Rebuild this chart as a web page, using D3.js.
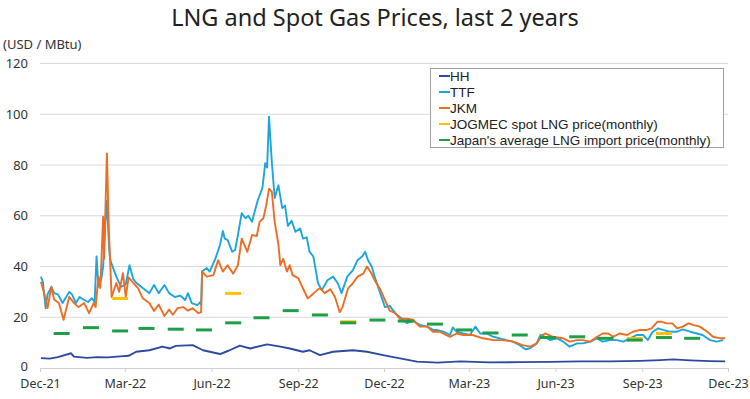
<!DOCTYPE html>
<html><head><meta charset="utf-8">
<script src="https://cdn.jsdelivr.net/npm/d3@7"></script>
<style>body{margin:0;background:#fff;font-family:"Noto Sans",sans-serif;}svg{display:block}</style>
</head><body><svg id="c" width="750" height="399"></svg>
<script>
const title = "LNG and Spot Gas Prices, last 2 years";
const unitLabel = "(USD / MBtu)";
const yTicks = [0,20,40,60,80,100,120];
const xTickDates = ["2021-12-01","2022-03-01","2022-06-01","2022-09-01","2022-12-01","2023-03-01","2023-06-01","2023-09-01","2023-12-01"];
const seriesNames = ["HH","TTF","JKM","JOGMEC spot LNG price(monthly)","Japan's average LNG import price(monthly)"];
const seriesColors = ["#2E4A9E","#1EA5DC","#EB6E24","#FFC000","#1E9E46"];

const HH = [["2021-12-02",3.9],["2021-12-11",3.7],["2021-12-20",4.3],["2022-01-03",5.8],["2022-01-06",4.5],["2022-01-20",4.0],["2022-01-30",4.3],["2022-02-11",4.2],["2022-02-24",4.6],["2022-03-05",4.8],["2022-03-13",6.4],["2022-03-27",7.0],["2022-04-10",8.4],["2022-04-18",7.7],["2022-04-24",8.7],["2022-05-12",9.0],["2022-05-23",7.0],["2022-06-10",5.5],["2022-06-19",6.8],["2022-07-01",8.8],["2022-07-12",7.7],["2022-07-30",9.3],["2022-08-13",8.4],["2022-08-23",7.7],["2022-09-06",6.4],["2022-09-13",7.0],["2022-09-24",5.1],["2022-10-08",6.4],["2022-10-29",7.0],["2022-11-13",6.4],["2022-11-30",5.1],["2022-12-18",3.8],["2023-01-05",2.5],["2023-01-27",2.1],["2023-02-20",2.6],["2023-03-23",2.2],["2023-04-24",2.3],["2023-05-26",2.4],["2023-06-27",2.6],["2023-07-29",2.6],["2023-08-30",2.8],["2023-09-20",3.1],["2023-10-04",3.4],["2023-10-22",3.0],["2023-11-12",2.7],["2023-11-28",2.6]];

const TTF = [["2021-12-02",36],["2021-12-04",34],["2021-12-07",23.6],["2021-12-09",29],["2021-12-13",32],["2021-12-16",29.5],["2021-12-20",29],["2021-12-25",25.6],["2022-01-01",30],["2022-01-04",29],["2022-01-08",25.6],["2022-01-12",28],["2022-01-16",27],["2022-01-21",26],["2022-01-25",27.5],["2022-01-28",26],["2022-01-30",44],["2022-02-01",32],["2022-02-04",35],["2022-02-06",40],["2022-02-08",55],["2022-02-10",66],["2022-02-12",50],["2022-02-13",44],["2022-02-14",42],["2022-02-20",36],["2022-02-25",32],["2022-03-02",33],["2022-03-06",40.5],["2022-03-10",35],["2022-03-13",33.6],["2022-03-20",31.5],["2022-03-27",29.5],["2022-04-01",32.7],["2022-04-06",29.5],["2022-04-12",32.7],["2022-04-17",29.5],["2022-04-23",28],["2022-04-29",28.5],["2022-05-04",26.8],["2022-05-07",29.5],["2022-05-11",25.6],["2022-05-17",24.8],["2022-05-20",26],["2022-05-21",25],["2022-05-22",38],["2022-05-27",39.4],["2022-05-30",38],["2022-06-05",43],["2022-06-10",48.5],["2022-06-13",54],["2022-06-15",51],["2022-06-18",50.5],["2022-06-23",45.8],["2022-06-26",46.5],["2022-06-29",52.4],["2022-07-03",61],["2022-07-07",59],["2022-07-10",60],["2022-07-14",57.6],["2022-07-17",62],["2022-07-20",66],["2022-07-25",71],["2022-07-28",80.7],["2022-07-30",79],["2022-08-01",99],["2022-08-04",81],["2022-08-07",67],["2022-08-11",72],["2022-08-15",63],["2022-08-18",64],["2022-08-21",56],["2022-08-25",58],["2022-08-29",53.7],["2022-09-03",55],["2022-09-06",51],["2022-09-10",51.5],["2022-09-13",45.8],["2022-09-17",44],["2022-09-22",33.4],["2022-09-26",30.7],["2022-10-02",34.6],["2022-10-08",36],["2022-10-13",33.4],["2022-10-17",29.5],["2022-10-23",36],["2022-10-29",38.6],["2022-11-03",42.5],["2022-11-08",44],["2022-11-11",45.8],["2022-11-14",42.5],["2022-11-18",40],["2022-11-21",36],["2022-11-27",29.5],["2022-12-02",24],["2022-12-07",24.5],["2022-12-13",21.6],["2022-12-18",20],["2022-12-25",17.7],["2023-01-01",18.5],["2023-01-08",17],["2023-01-16",16.3],["2023-01-22",15],["2023-01-26",15],["2023-02-02",14.3],["2023-02-09",13],["2023-02-12",16],["2023-02-16",14.3],["2023-02-23",13.6],["2023-03-02",13],["2023-03-08",16.3],["2023-03-13",13.6],["2023-03-20",13.6],["2023-03-27",12.3],["2023-04-03",11.7],["2023-04-10",11],["2023-04-17",10.4],["2023-04-24",9],["2023-04-30",7.4],["2023-05-05",7.8],["2023-05-12",9.7],["2023-05-16",13],["2023-05-21",12.3],["2023-05-26",11],["2023-06-03",11.7],["2023-06-09",10.4],["2023-06-16",8.4],["2023-06-24",9.7],["2023-06-30",9.7],["2023-07-08",10.4],["2023-07-15",11.7],["2023-07-21",10.4],["2023-07-29",11],["2023-08-05",11],["2023-08-12",10.4],["2023-08-19",11.7],["2023-08-26",13],["2023-09-02",13],["2023-09-07",11],["2023-09-12",14.3],["2023-09-18",15.6],["2023-09-23",15],["2023-09-30",14.3],["2023-10-08",14.3],["2023-10-14",15.2],["2023-10-22",14.3],["2023-10-29",13.6],["2023-11-04",13],["2023-11-12",11],["2023-11-19",10.4],["2023-11-26",11]];

const JKM = [["2021-12-02",34],["2021-12-05",30],["2021-12-09",23.6],["2021-12-13",32],["2021-12-16",27],["2021-12-21",25.6],["2021-12-26",19],["2022-01-01",28],["2022-01-06",25.6],["2022-01-11",24],["2022-01-17",25.6],["2022-01-22",21.6],["2022-01-27",25.6],["2022-01-29",24],["2022-02-01",36],["2022-02-03",31.5],["2022-02-06",59.6],["2022-02-07",43],["2022-02-10",84.6],["2022-02-12",55],["2022-02-15",28],["2022-02-20",33.5],["2022-02-23",30],["2022-02-27",37.4],["2022-03-02",28],["2022-03-05",35.7],["2022-03-10",33.5],["2022-03-15",31.5],["2022-03-20",27.5],["2022-03-27",25.6],["2022-04-01",22.5],["2022-04-06",25],["2022-04-12",20.5],["2022-04-17",23],["2022-04-21",21],["2022-04-26",23.6],["2022-05-02",24],["2022-05-07",22.6],["2022-05-12",23.6],["2022-05-18",21.6],["2022-05-21",22],["2022-05-22",38],["2022-05-27",36],["2022-06-03",36.6],["2022-06-08",42.5],["2022-06-13",38],["2022-06-18",40.5],["2022-06-24",37.2],["2022-06-29",40.5],["2022-07-03",51],["2022-07-09",45.8],["2022-07-14",52.4],["2022-07-19",52],["2022-07-22",57.6],["2022-07-26",59],["2022-07-29",64],["2022-08-01",70.7],["2022-08-04",69.4],["2022-08-07",57.6],["2022-08-11",48.5],["2022-08-13",40.5],["2022-08-16",43],["2022-08-20",38],["2022-08-23",40.5],["2022-08-26",36.6],["2022-09-01",35.4],["2022-09-06",31.4],["2022-09-11",27.5],["2022-09-13",28],["2022-09-19",30],["2022-09-24",31.5],["2022-09-29",29.5],["2022-10-05",31],["2022-10-10",28],["2022-10-15",22],["2022-10-18",24],["2022-10-24",31.5],["2022-10-29",33.4],["2022-11-03",36],["2022-11-09",37.2],["2022-11-13",40],["2022-11-18",37],["2022-11-21",34.6],["2022-11-27",31],["2022-12-02",26.8],["2022-12-07",22.6],["2022-12-13",21.6],["2022-12-18",19.4],["2022-12-25",19.4],["2023-01-01",19],["2023-01-08",16.3],["2023-01-16",16.3],["2023-01-22",14.3],["2023-01-29",14.3],["2023-02-09",12.3],["2023-02-16",13.6],["2023-02-23",13],["2023-03-05",13],["2023-03-16",11.7],["2023-03-27",11],["2023-04-06",11],["2023-04-17",10.4],["2023-04-27",9],["2023-05-05",8.4],["2023-05-12",9.7],["2023-05-18",13],["2023-05-21",13.6],["2023-05-29",12.3],["2023-06-09",11.7],["2023-06-16",10.4],["2023-06-24",11],["2023-06-30",11],["2023-07-08",10.4],["2023-07-15",12.3],["2023-07-21",13.6],["2023-07-27",13.6],["2023-08-01",12.3],["2023-08-08",13.6],["2023-08-16",13],["2023-08-22",14.3],["2023-08-30",15],["2023-09-06",15],["2023-09-11",15.6],["2023-09-17",18.2],["2023-09-22",18.2],["2023-09-27",17.6],["2023-10-03",17.6],["2023-10-08",15.6],["2023-10-14",16.3],["2023-10-20",17.6],["2023-10-25",17],["2023-11-01",16.3],["2023-11-09",14.3],["2023-11-15",12.3],["2023-11-23",11.7],["2023-11-28",11.7]];

const JOGMEC = [["2022-02-24",27.4],["2022-06-24",29.4],["2022-10-24",18.2],["2023-08-24",11.6],["2023-09-24",13.6]];

const JAPAN = [["2021-12-24",13.6],["2022-01-24",15.9],["2022-02-24",14.6],["2022-03-24",15.6],["2022-04-24",15.3],["2022-05-24",15.0],["2022-06-24",17.8],["2022-07-24",19.8],["2022-08-24",22.6],["2022-09-24",20.9],["2022-10-24",17.8],["2022-11-24",18.9],["2022-12-24",18.5],["2023-01-24",17.3],["2023-02-24",15.0],["2023-03-24",13.8],["2023-04-24",13.0],["2023-05-24",12.0],["2023-06-24",12.3],["2023-07-24",11.7],["2023-08-24",11.0],["2023-09-24",12.0],["2023-10-24",11.7]];

const parse = d3.timeParse("%Y-%m-%d");
const svg = d3.select("#c");
const M = {left:40, right:728, top:63.5, bottom:368};
const x = d3.scaleTime().domain([parse("2021-12-01"), parse("2023-12-01")]).range([M.left, M.right]);
const y = d3.scaleLinear().domain([0,120]).range([M.bottom, M.top]);

svg.append("text").attr("x",375).attr("y",26).attr("text-anchor","middle")
  .attr("font-size",23.5).attr("fill","#222").text(title);
svg.append("text").attr("x",3).attr("y",49).attr("font-size",13).attr("fill","#333").text(unitLabel);

// gridlines
svg.append("g").selectAll("line").data(yTicks.filter(t=>t>0)).join("line")
  .attr("x1",M.left).attr("x2",M.right).attr("y1",d=>y(d)).attr("y2",d=>y(d))
  .attr("stroke","#DADADA").attr("stroke-width",1);

// y axis labels
const yAxis = d3.axisLeft(y).tickValues(yTicks).tickSize(0).tickPadding(0);
const gy = svg.append("g").attr("transform","translate(28,0)").call(yAxis);
gy.select(".domain").remove();
gy.selectAll("text").attr("font-size",13).attr("fill","#333").attr("font-family","Noto Sans");
gy.selectAll(".tick").filter(d=>d===0).select("text").attr("dy","0.2em");

// x axis
const xAxis = d3.axisBottom(x).tickValues(xTickDates.map(parse)).tickFormat(d3.timeFormat("%b-%y")).tickSize(4).tickPadding(7);
const gx = svg.append("g").attr("transform",`translate(0,${M.bottom})`).call(xAxis);
gx.select(".domain").attr("stroke","#D0D0D0");
gx.selectAll(".tick line").attr("stroke","#D0D0D0");
gx.selectAll("text").attr("font-size",12.5).attr("fill","#333").attr("font-family","Noto Sans");

const line = d3.line().x(d=>x(parse(d[0]))).y(d=>y(d[1]));
[[HH,0],[TTF,1],[JKM,2]].forEach(([data,i])=>{
  svg.append("path").datum(data).attr("d",line).attr("fill","none")
    .attr("stroke",seriesColors[i]).attr("stroke-width",1.9).attr("stroke-linejoin","round");
});
[[JOGMEC,3],[JAPAN,4]].forEach(([data,i])=>{
  svg.append("g").selectAll("line").data(data).join("line")
    .attr("x1",d=>x(parse(d[0]))-8).attr("x2",d=>x(parse(d[0]))+8)
    .attr("y1",d=>y(d[1])).attr("y2",d=>y(d[1]))
    .attr("stroke",seriesColors[i]).attr("stroke-width",3);
});

// legend
const lg = svg.append("g");
lg.append("rect").attr("x",430.5).attr("y",68.5).attr("width",293).attr("height",79)
  .attr("fill","#fff").attr("stroke","#A0A0A0").attr("stroke-width",1);
seriesNames.forEach((n,i)=>{
  const yy = 76 + i*16;
  lg.append("line").attr("x1",439).attr("x2",450).attr("y1",yy).attr("y2",yy)
    .attr("stroke",seriesColors[i]).attr("stroke-width",2);
  lg.append("text").attr("x",450).attr("y",yy+4.5).attr("font-size",13.5)
    .attr("font-family","Liberation Sans").attr("fill","#222").text(n);
});
</script></body></html>
